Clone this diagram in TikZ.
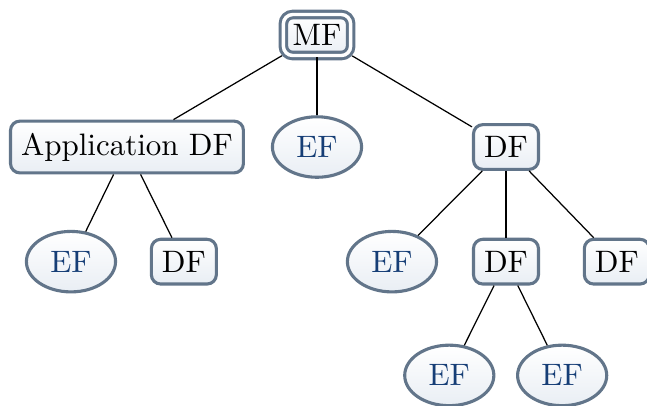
\documentclass[tikz,border=0pt]{standalone}
\usetikzlibrary{shapes.geometric}
\definecolor{BorderClr}{RGB}{98,117,138}
\definecolor{EFClr}{RGB}{22,62,118}
\definecolor{ShadeClr}{RGB}{233,238,244}

\tikzset{
  dfbox/.style={rectangle,rounded corners=3pt,draw=BorderClr,line width=1pt,
    top color=white,bottom color=ShadeClr,inner xsep=3.4pt,inner ysep=3.8pt},
  mfbox/.style={dfbox,double=white,double distance=1.1pt,inner xsep=3pt,inner ysep=3.2pt},
  efnode/.style={ellipse,draw=BorderClr,line width=1pt,
    top color=white,bottom color=ShadeClr,text=EFClr,inner sep=3.5pt},
  link/.style={black,line width=0.4pt}
}

\begin{document}
\begin{tikzpicture}
\useasboundingbox (-3.595,0.397) rectangle (3.742,-4.196);

% top
\node[mfbox] (mf) at (0,0) {MF};

% second row
\node[dfbox] (app) at (-2.155,-1.27) {Application DF};
\node[efnode] (ef) at (0,-1.27) {EF};
\node[dfbox] (df) at (2.143,-1.27) {DF};

% third row
\node[efnode] (appef) at (-2.79,-2.57) {EF};
\node[dfbox] (appdf) at (-1.51,-2.57) {DF};
\node[efnode] (dfef) at (0.85,-2.57) {EF};
\node[dfbox] (dfdf) at (2.143,-2.57) {DF};
\node[dfbox] (dfdfb) at (3.40,-2.57) {DF};

% fourth row
\node[efnode] (subefa) at (1.50,-3.86) {EF};
\node[efnode] (subefb) at (2.78,-3.86) {EF};

\draw[link] (mf) -- (app);
\draw[link] (mf) -- (ef);
\draw[link] (mf) -- (df);
\draw[link] (app) -- (appef);
\draw[link] (app) -- (appdf);
\draw[link] (df) -- (dfef);
\draw[link] (df) -- (dfdf);
\draw[link] (df) -- (dfdfb);
\draw[link] (dfdf) -- (subefa);
\draw[link] (dfdf) -- (subefb);

\end{tikzpicture}
\end{document}
